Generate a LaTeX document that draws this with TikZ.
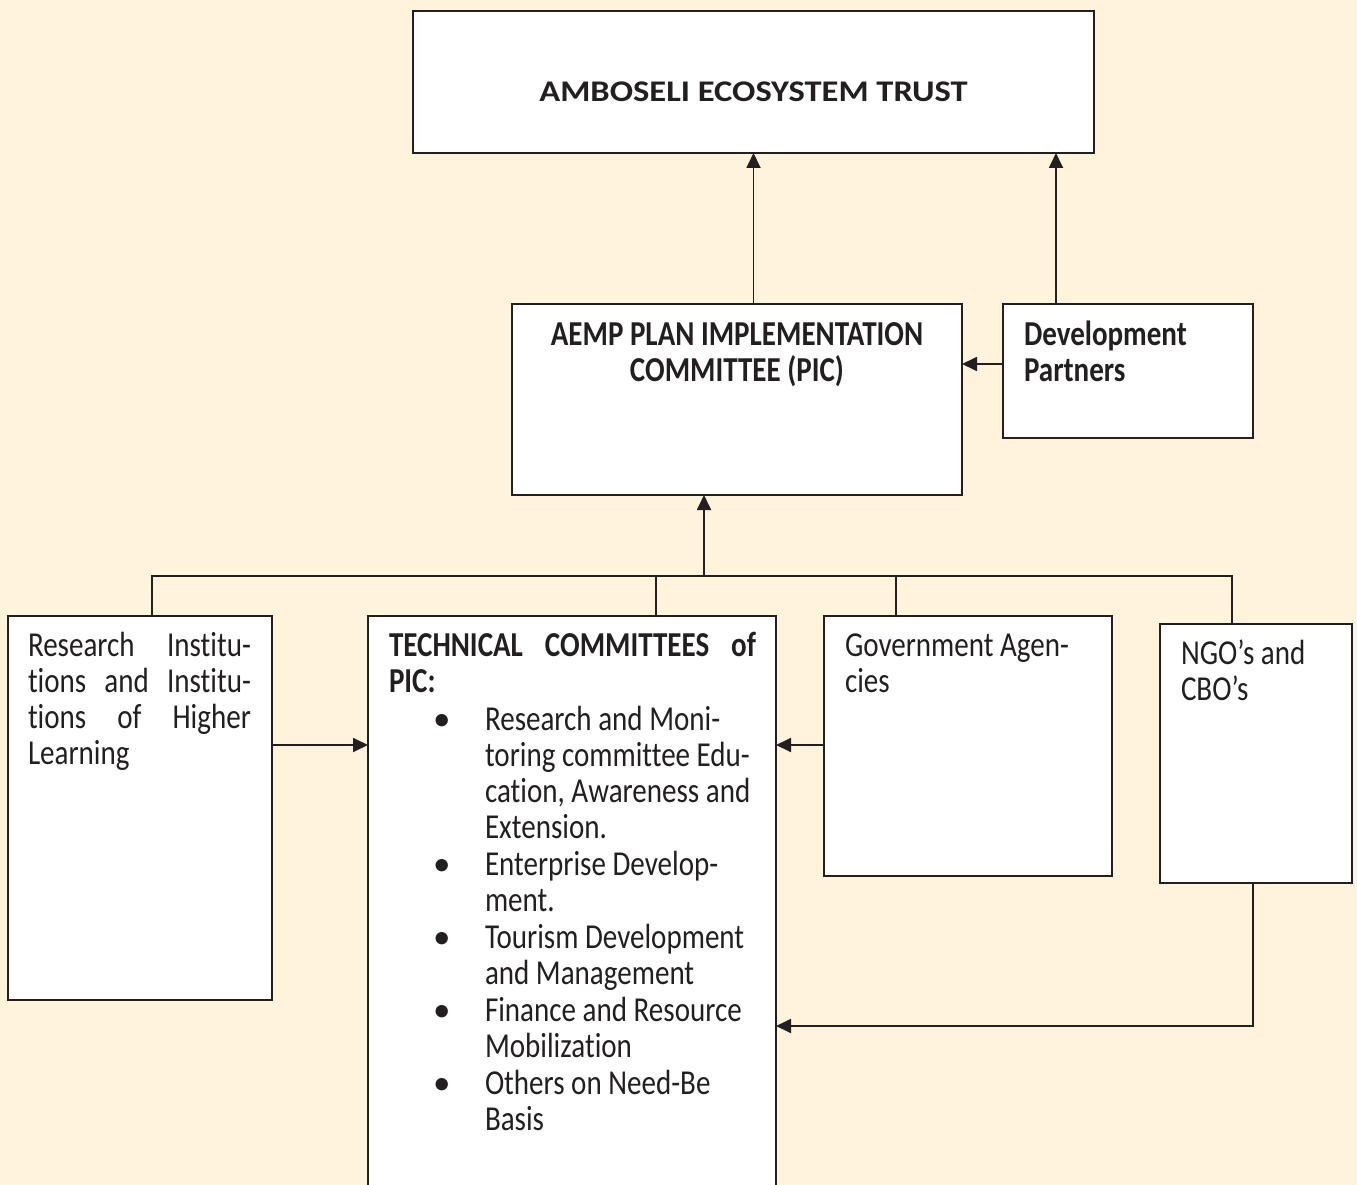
\documentclass[tikz,border=0pt]{standalone}
\usepackage{fontspec}
\setmainfont{Carlito}[FakeStretch=0.83, Ligatures={TeX,NoCommon}]
\newfontfamily\titlefont{Carlito}[FakeStretch=1.15, Ligatures={TeX,NoCommon}]
\newfontfamily\dotfont{Carlito}
\usetikzlibrary{calc,arrows.meta}
\definecolor{cream}{HTML}{FFF4DB}
\definecolor{ink}{HTML}{231F20}
\newcommand{\jline}[1]{\makebox[\linewidth][s]{#1}}
\newcommand{\boxtext}[2]{\begin{minipage}[t]{#1}#2\end{minipage}}
\newcommand{\pitem}[1]{\par\vspace{1pt}\hangindent=96pt\hangafter=1\noindent\hspace*{44pt}\makebox[52pt][l]{{\dotfont\textbullet}}#1\par}
\begin{document}
\begin{tikzpicture}[x=1pt,y=-1pt,
  box/.style={draw=ink, fill=white, line width=1.8pt, inner sep=0pt, outer sep=0pt},
  txt/.style={inner sep=0pt, outer sep=0pt, text=ink, font=\fontsize{35}{36}\selectfont},
  link/.style={draw=ink, line width=1.8pt},
  arr/.style={link, -{Triangle[length=15pt,width=14pt]}}]

  % BACKGROUND
  \fill[cream] (0,0) rectangle (1357,1185);
  \clip (0,0) rectangle (1357,1185);

  % BOXES
  \node[box, minimum width=681pt, minimum height=142pt] (trust) at (753.5,82) {};
  \node[box, minimum width=450pt, minimum height=191pt] (pic) at (737,399.5) {};
  \node[box, minimum width=250pt, minimum height=134pt] (dev) at (1128,371) {};
  \node[box, minimum width=264pt, minimum height=384pt] (res) at (140,808) {};
  \node[box, minimum width=408pt, minimum height=584pt] (tech) at (572,908) {};
  \node[box, minimum width=288pt, minimum height=260pt] (gov) at (968,746) {};
  \node[box, minimum width=192pt, minimum height=259pt] (ngo) at (1256,753.5) {};

  % TEXTS
  \node[txt, anchor=base] (trust-t) at ([shift={(0,91)}]trust.north)
    {\titlefont\bfseries\fontsize{30}{36}\selectfont AMBOSELI ECOSYSTEM TRUST};
  \node[txt, anchor=base] (pic-t) at ([shift={(0,41)}]pic.north)
    {\boxtext{420pt}{\centering\bfseries AEMP PLAN IMPLEMENTATION\\COMMITTEE (PIC)}};
  \node[txt, anchor=base west] (dev-t) at ([shift={(21,41)}]dev.north west)
    {\boxtext{220pt}{\bfseries Development\\Partners}};
  \node[txt, anchor=base west] (res-t) at ([shift={(20,40)}]res.north west)
    {\boxtext{223pt}{\jline{Research Institu-}\\\jline{tions and Institu-}\\\jline{tions of Higher}\\Learning}};
  \node[txt, anchor=base west] (tech-t) at ([shift={(21,40)}]tech.north west)
    {\boxtext{367pt}{\bfseries\jline{TECHNICAL COMMITTEES of}\\PIC:\par\mdseries\vspace{1pt}
      \pitem{Research and Moni-\\toring committee Edu-\\cation, Awareness and\\Extension.}
      \pitem{Enterprise Develop-\\ment.}
      \pitem{Tourism Development\\and Management}
      \pitem{Finance and Resource\\Mobilization}
      \pitem{Others on Need-Be\\Basis}}};
  \node[txt, anchor=base west] (gov-t) at ([shift={(21,40)}]gov.north west)
    {\boxtext{250pt}{Government Agen-\\cies}};
  \node[txt, anchor=base west] (ngo-t) at ([shift={(21,40)}]ngo.north west)
    {\boxtext{160pt}{NGO’s and\\CBO’s}};

  % CONNECTORS
  \coordinate (rowA) at (0,745);
  \coordinate (rowB) at (0,1026);
  \coordinate (b1) at (152,576);
  \coordinate (b2) at (656,576);
  \coordinate (b3) at (704,576);
  \coordinate (b4) at (896,576);
  \coordinate (b5) at (1232,576);

  \draw[arr] (trust.south |- pic.north) -- (trust.south);
  \draw[arr] ([xshift=-72pt]dev.north) -- ([xshift=-72pt]dev.north |- trust.south);
  \draw[arr] ([yshift=7pt]dev.west) -- ([yshift=7pt]dev.west -| pic.east);

  % BUS
  \draw[link] (res.north -| b1) -- (b1) -- (b5) -- (ngo.north -| b5);
  \draw[link] (b2) -- (tech.north -| b2);
  \draw[link] (b4) -- (gov.north -| b4);
  \draw[arr] (b3) -- (pic.south -| b3);

  \draw[arr] (res.east |- rowA) -- (tech.west |- rowA);
  \draw[arr] (gov.west |- rowA) -- (tech.east |- rowA);
  \draw[arr] ([xshift=-3pt]ngo.south) |- (tech.east |- rowB);
\end{tikzpicture}
\end{document}
